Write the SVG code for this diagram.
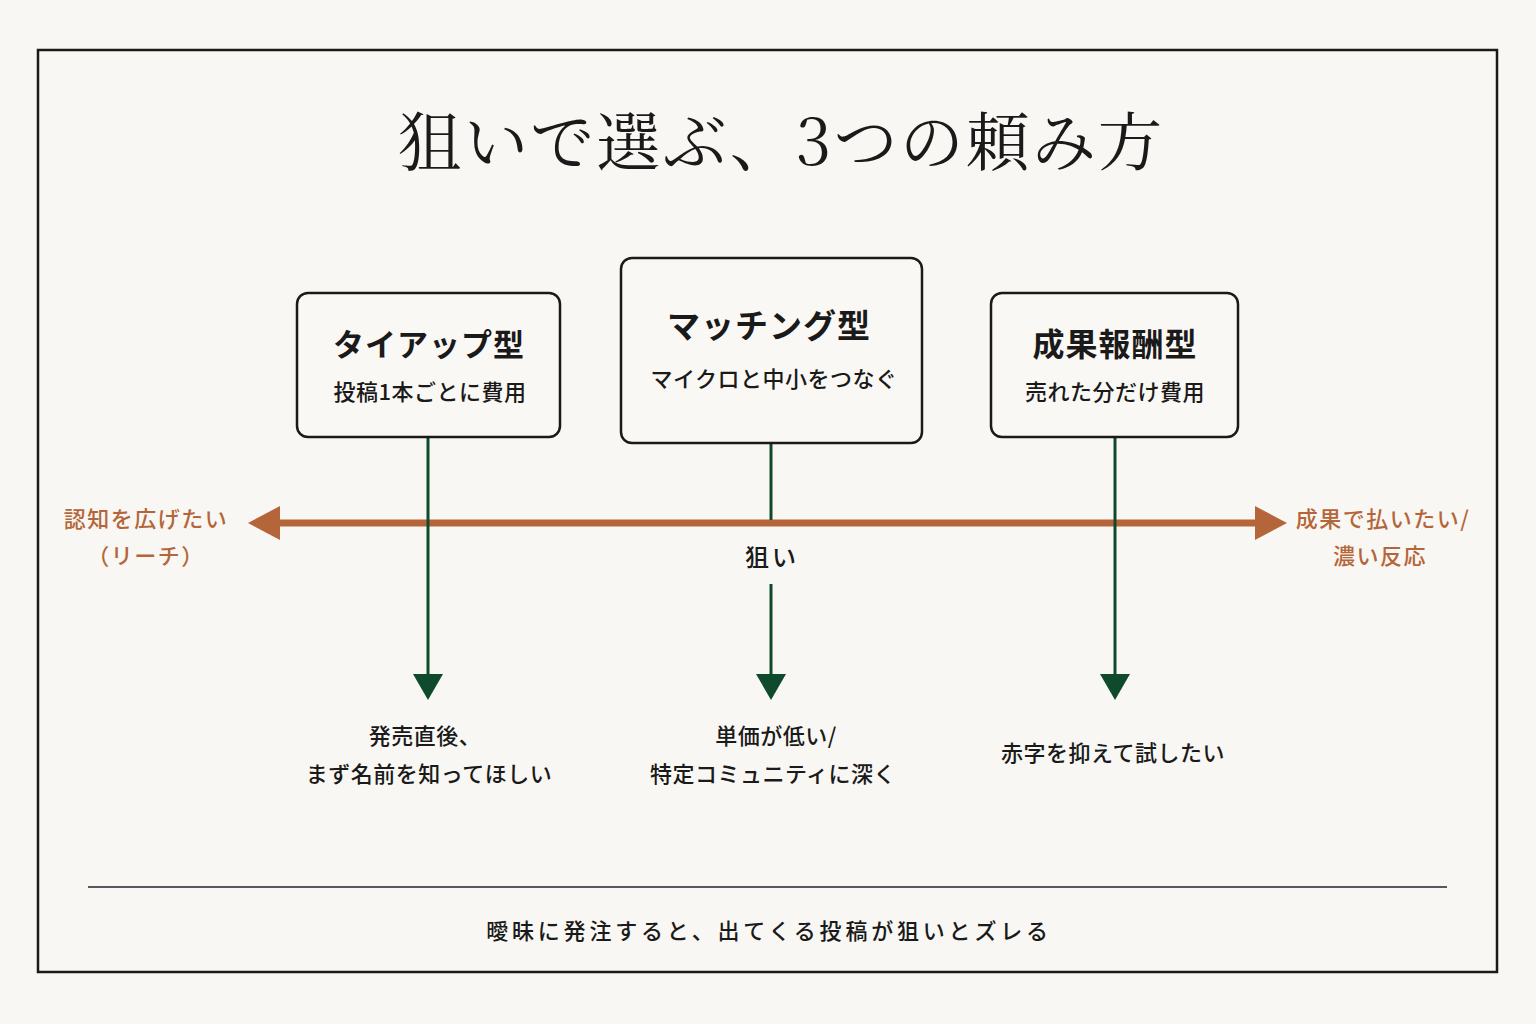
<svg xmlns="http://www.w3.org/2000/svg" width="1536" height="1024" viewBox="0 0 1536 1024">
<style>
text{font-family:"Noto Sans CJK JP","Noto Sans",sans-serif;fill:#1a1a1a;text-anchor:middle}
.title{font-size:64px;font-family:"Noto Serif CJK JP","Noto Sans CJK JP",serif;font-weight:400}
.box{fill:#faf8f4;stroke:#1a1a1a;stroke-width:2.5}
.bt{font-size:31px;font-weight:700;letter-spacing:1px}
.bs{font-size:22px;letter-spacing:0.5px;font-weight:500}
.lbl{font-size:22px;fill:#b4663a;letter-spacing:1.5px;font-weight:500}
.res{font-size:22px;letter-spacing:0.5px;font-weight:500}
.g{stroke:#0f4a2c;stroke-width:3;fill:none}
.gh{fill:#0f4a2c}
</style>
<rect width="1536" height="1024" fill="#f9f7f3"/>
<rect x="38" y="50" width="1459" height="922" fill="none" stroke="#1a1a1a" stroke-width="2.5"/>
<text class="title" x="780" y="165" textLength="764" lengthAdjust="spacing">狙いで選ぶ、3つの頼み方</text>

<g id="connectors">
<line x1="272" y1="523" x2="1262" y2="523" stroke="#b4663a" stroke-width="7"/>
<polygon points="248,523 280,506 280,540" fill="#b4663a"/>
<polygon points="1287,523 1255,506 1255,540" fill="#b4663a"/>
<line class="g" x1="428" y1="437" x2="428" y2="676"/>
<polygon class="gh" points="413,674 443,674 428,700"/>
<line class="g" x1="771" y1="443" x2="771" y2="520"/>
<line class="g" x1="771" y1="584" x2="771" y2="676"/>
<polygon class="gh" points="756,674 786,674 771,700"/>
<line class="g" x1="1115" y1="437" x2="1115" y2="676"/>
<polygon class="gh" points="1100,674 1130,674 1115,700"/>
<text x="772" y="566" style="font-size:24px;letter-spacing:3px;font-weight:500">狙い</text>
</g>

<g id="node-tieup">
<rect class="box" x="297" y="293" width="263" height="144" rx="11"/>
<text class="bt" x="429" y="356">タイアップ型</text>
<text class="bs" x="430" y="400">投稿1本ごとに費用</text>
</g>
<g id="node-matching">
<rect class="box" x="621" y="258" width="301" height="185" rx="11"/>
<text class="bt" x="769" y="338" style="font-size:33px">マッチング型</text>
<text class="bs" x="774" y="387">マイクロと中小をつなぐ</text>
</g>
<g id="node-performance">
<rect class="box" x="991" y="293" width="247" height="144" rx="11"/>
<text class="bt" x="1115" y="356" style="font-size:32px">成果報酬型</text>
<text class="bs" x="1115" y="400">売れた分だけ費用</text>
</g>

<g id="label-left">
<text class="lbl" x="146" y="527">認知を広げたい</text>
<text class="lbl" x="146" y="564">（リーチ）</text>
</g>
<g id="label-right">
<text class="lbl" x="1383" y="527">成果で払いたい/</text>
<text class="lbl" x="1380" y="564">濃い反応</text>
</g>

<g id="result-1">
<text class="res" x="425" y="744">発売直後、</text>
<text class="res" x="429" y="782">まず名前を知ってほしい</text>
</g>
<g id="result-2">
<text class="res" x="776" y="744">単価が低い/</text>
<text class="res" x="773" y="782">特定コミュニティに深く</text>
</g>
<g id="result-3">
<text class="res" x="1113" y="761">赤字を抑えて試したい</text>
</g>

<line x1="88" y1="887" x2="1447" y2="887" stroke="#1c2433" stroke-width="1.5"/>
<text x="769" y="939" style="font-size:22px;letter-spacing:3.8px;font-weight:500">曖昧に発注すると、出てくる投稿が狙いとズレる</text>
</svg>
